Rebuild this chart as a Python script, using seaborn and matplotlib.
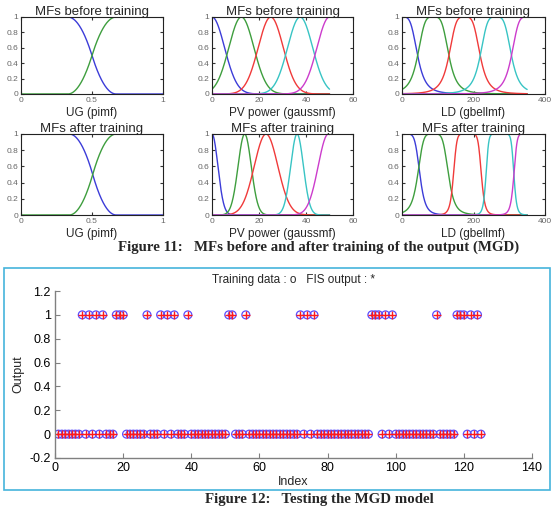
import numpy as np
import pandas as pd
import seaborn as sns
import matplotlib.pyplot as plt
from matplotlib.patches import Rectangle

# ---- data ----
mf_colors = ['#3c3cd8', '#3e9e3e', '#f03a3a', '#38c4c4', '#cc3ccc']

# pimf parameters [a b c d] for UG
ug_before = [[-0.67, -0.33, 0.33, 0.67], [0.33, 0.67, 1.33, 1.67]]
ug_after = [[-0.67, -0.33, 0.34, 0.67], [0.34, 0.67, 1.33, 1.67]]

# gaussmf centres / sigmas for PV power
pv_before_c = [0, 12.5, 25, 37.5, 50]
pv_before_s = [5.31, 5.31, 5.31, 5.31, 5.31]
pv_after_c = [0, 13.9, 23.0, 36.2, 49.5]
pv_after_s = [2.5, 2.8, 5.0, 2.7, 4.3]

# gbellmf a / b / c for LD
ld_before_a = [43.75, 43.75, 43.75, 43.75, 43.75]
ld_before_b = [2, 2, 2, 2, 2]
ld_before_c = [0, 87.5, 175, 262.5, 350]
ld_after_a = [45, 43, 39, 39, 37]
ld_after_b = [3, 2.5, 4, 5, 4]
ld_after_c = [5, 87, 183, 274, 350]

# testing data (index 1..125), training data == FIS output
output = [0, 0, 0, 0, 0, 0, 0, 1, 0, 1, 0, 1, 0, 1, 0, 0, 0, 1, 1, 1,
          0, 0, 0, 0, 0, 0, 1, 0, 0, 0, 1, 0, 1, 0, 1, 0, 0, 0, 1, 0,
          0, 0, 0, 0, 0, 0, 0, 0, 0, 0, 1, 1, 0, 0, 0, 1, 0, 0, 0, 0,
          0, 0, 0, 0, 0, 0, 0, 0, 0, 0, 0, 1, 0, 1, 0, 1, 0, 0, 0, 0,
          0, 0, 0, 0, 0, 0, 0, 0, 0, 0, 0, 0, 1, 1, 1, 0, 1, 0, 1, 0,
          0, 0, 0, 0, 0, 0, 0, 0, 0, 0, 0, 1, 0, 0, 0, 0, 0, 1, 1, 1,
          0, 1, 0, 1, 0]
index = list(range(1, len(output) + 1))


def smf(x, a, b):
    m = (a + b) / 2
    y = np.zeros_like(x)
    y[x >= b] = 1
    k = (x > a) & (x <= m)
    y[k] = 2 * ((x[k] - a) / (b - a)) ** 2
    k = (x > m) & (x < b)
    y[k] = 1 - 2 * ((x[k] - b) / (b - a)) ** 2
    return y


def pimf(x, p):
    return smf(x, p[0], p[1]) * (1 - smf(x, p[2], p[3]))


def gaussmf(x, c, s):
    return np.exp(-(x - c) ** 2 / (2 * s ** 2))


def gbellmf(x, a, b, c):
    return 1 / (1 + np.abs((x - c) / a) ** (2 * b))


sns.set_style("white")
plt.rcParams['font.family'] = ['Liberation Sans', 'DejaVu Sans']

W, H = 558, 509
fig = plt.figure(figsize=(W / 100, H / 100), dpi=100)


def box(l, t, r, b):
    return [l / W, 1 - b / H, (r - l) / W, (b - t) / H]


def mf_axes(rect, xmax, xticks, title, xlabel):
    ax = fig.add_axes(rect)
    ax.set_xlim(0, xmax)
    ax.set_ylim(0, 1)
    ax.set_xticks(xticks)
    ax.set_xticklabels([('%g' % t) for t in xticks])
    ax.set_yticks([0, 0.2, 0.4, 0.6, 0.8, 1])
    ax.set_yticklabels(['0', '0.2', '0.4', '0.6', '0.8', '1'])
    ax.tick_params(direction='in', length=2, labelsize=6, colors='#333333',
                   labelcolor='#666666', pad=2, top=True, right=True, left=True, bottom=True)
    for s in ax.spines.values():
        s.set_visible(True)
        s.set_color('#222222')
        s.set_linewidth(0.8)
    ax.set_title(title, fontsize=9.5, pad=1.5)
    ax.set_xlabel(xlabel, fontsize=8.5, labelpad=2)
    ax.set_ylabel('')
    return ax


def draw(ax, x, ys):
    for i, y in enumerate(ys):
        sns.lineplot(x=x, y=y, ax=ax, color=mf_colors[i], linewidth=1.0,
                     estimator=None, sort=False)


rows = [(17, 94, 'MFs before training'), (134, 215, 'MFs after training')]
cols = [(21, 163), (212, 353), (402, 545)]

for r, (top, bot, title) in enumerate(rows):
    # UG
    ax = mf_axes(box(cols[0][0], top, cols[0][1], bot), 1, [0, 0.5, 1], title, 'UG (pimf)')
    x = np.linspace(0, 1, 400)
    pars = ug_before if r == 0 else ug_after
    draw(ax, x, [pimf(x, p) for p in pars])
    # PV
    ax = mf_axes(box(cols[1][0], top, cols[1][1], bot), 60, [0, 20, 40, 60], title,
                 'PV power (gaussmf)')
    x = np.linspace(0, 50, 400)
    cs, ss = (pv_before_c, pv_before_s) if r == 0 else (pv_after_c, pv_after_s)
    draw(ax, x, [gaussmf(x, c, s) for c, s in zip(cs, ss)])
    # LD
    ax = mf_axes(box(cols[2][0], top, cols[2][1], bot), 400, [0, 200, 400], title,
                 'LD (gbellmf)')
    x = np.linspace(0, 350, 400)
    if r == 0:
        aa, bb, cc = ld_before_a, ld_before_b, ld_before_c
    else:
        aa, bb, cc = ld_after_a, ld_after_b, ld_after_c
    draw(ax, x, [gbellmf(x, a, b, c) for a, b, c in zip(aa, bb, cc)])

fig.text(319 / W, 1 - 247 / H, 'Figure 11:   MFs before and after training of the output (MGD)',
         family=['Liberation Serif', 'DejaVu Serif'], fontweight='bold', fontsize=10.7,
         ha='center', va='center')

# frame around figure 12
fig.patches.append(Rectangle((4 / W, 1 - 490 / H), 546 / W, 222 / H, transform=fig.transFigure,
                             fill=False, edgecolor='#45b4dc', linewidth=1.2))

df = pd.DataFrame({'Index': index, 'Output': output})
ax = fig.add_axes(box(55, 291, 532, 458))
sns.scatterplot(data=df, x='Index', y='Output', ax=ax, marker='o', s=32,
                color='#5a4dff', linewidth=0.9)
ax.collections[-1].set_facecolor('none')
ax.collections[-1].set_edgecolor('#5a4dff')
sns.scatterplot(data=df, x='Index', y='Output', ax=ax, marker='+', s=32,
                color='#ff1a1a', linewidth=1.0)
ax.set_xlim(0, 140)
ax.set_ylim(-0.2, 1.2)
ax.set_xticks(range(0, 141, 20))
yt = [-0.2, 0, 0.2, 0.4, 0.6, 0.8, 1, 1.2]
ax.set_yticks(yt)
ax.set_yticklabels(['-0.2', '0', '0.2', '0.4', '0.6', '0.8', '1', '1.2'])
ax.tick_params(direction='in', length=3.5, labelsize=9, colors='#808080',
               labelcolor='black', left=True, bottom=True, pad=3)
sns.despine(ax=ax)
for s in ['left', 'bottom']:
    ax.spines[s].set_color('#808080')
    ax.spines[s].set_linewidth(1.0)
ax.set_title('Training data : o   FIS output : *', fontsize=8.5, pad=6)
ax.set_xlabel('Index', fontsize=9, labelpad=1)
ax.set_ylabel('Output', fontsize=9, labelpad=4)

fig.text(319 / W, 1 - 500 / H, 'Figure 12:   Testing the MGD model',
         family=['Liberation Serif', 'DejaVu Serif'], fontweight='bold', fontsize=10.7,
         ha='center', va='center')

fig.savefig('out.png', dpi=100, facecolor='white')
